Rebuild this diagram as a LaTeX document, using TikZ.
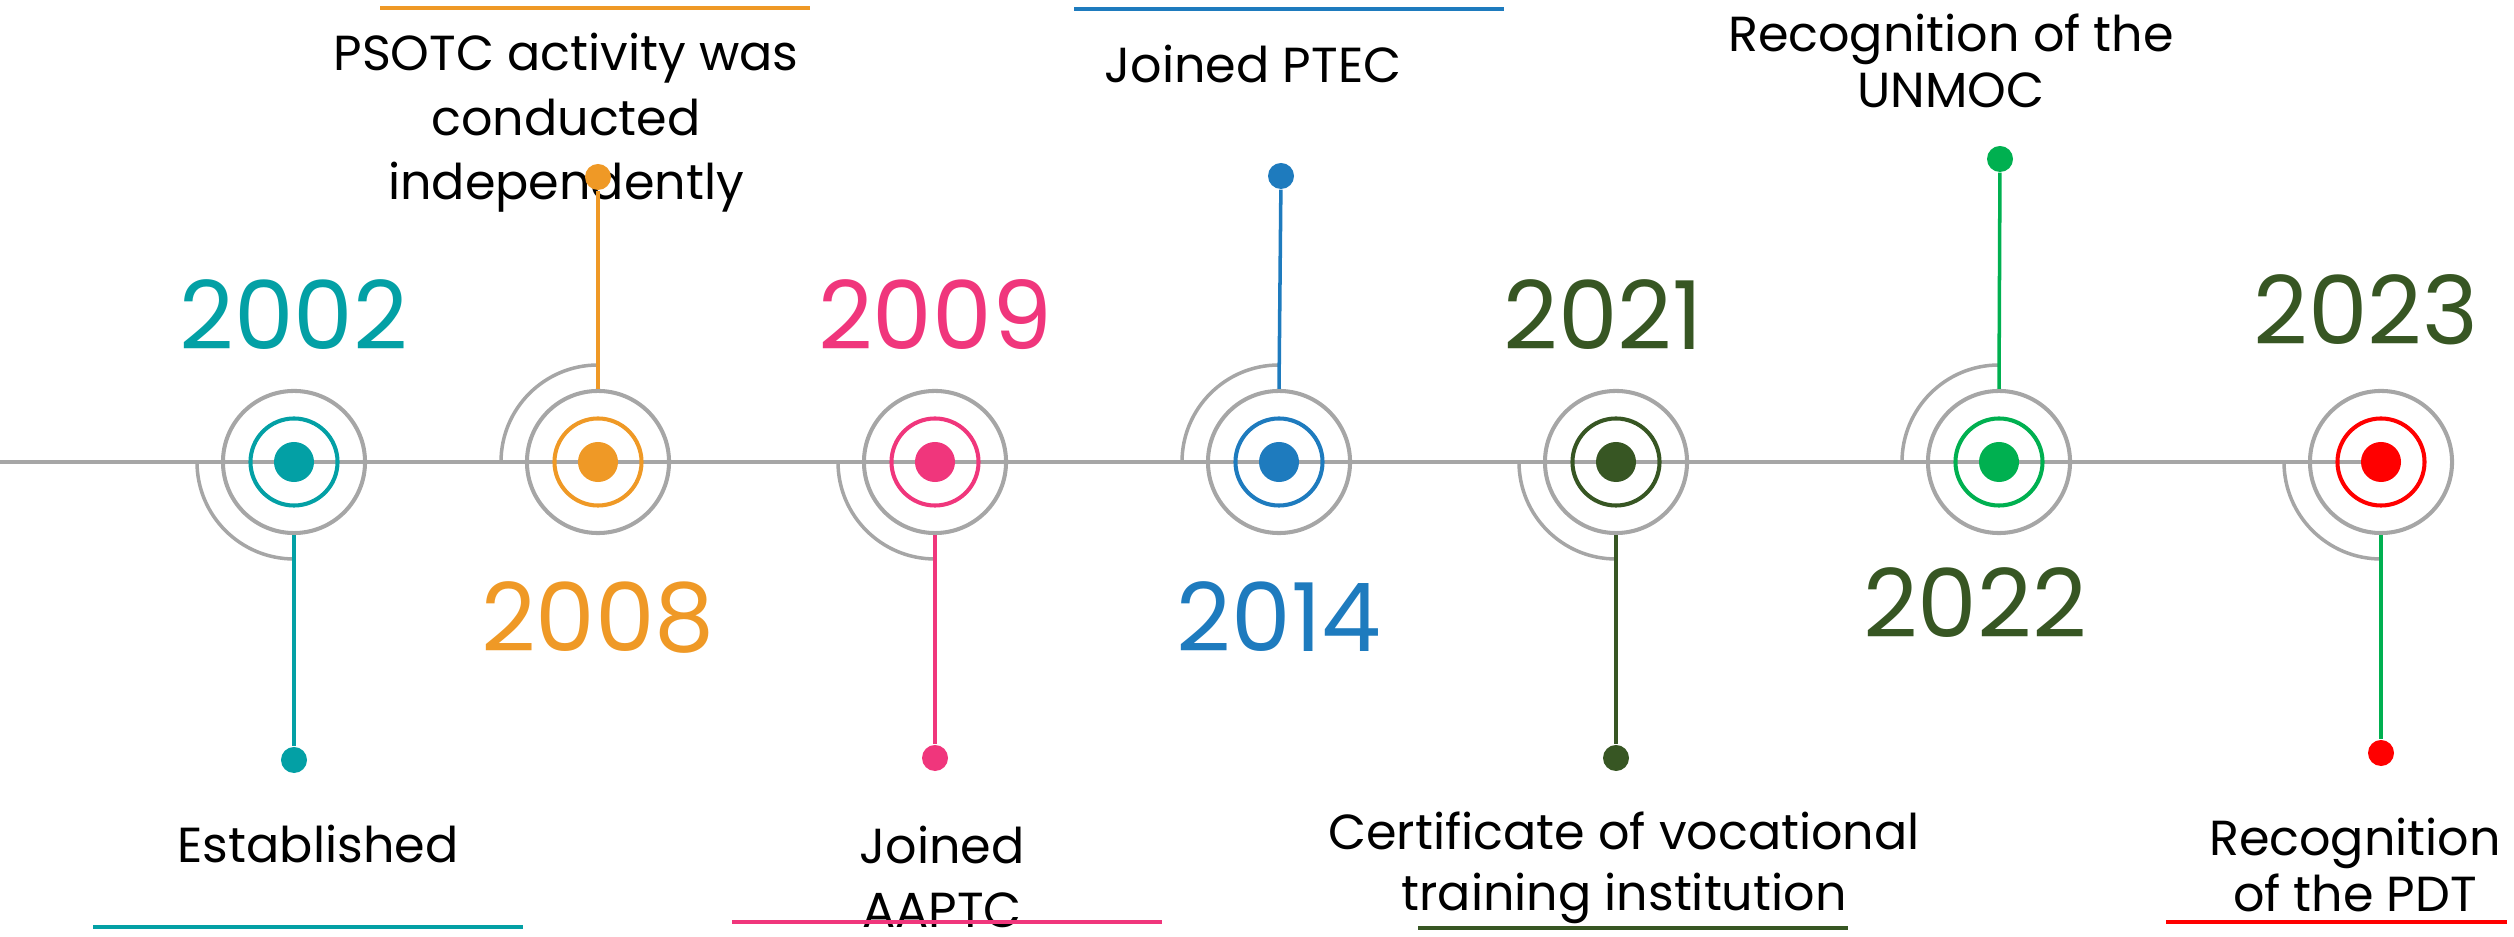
\documentclass[tikz,border=0pt]{standalone}
\usepackage{fontspec}
\setmainfont{Poppins}
\usetikzlibrary{positioning}

\definecolor{ringgray}{RGB}{166,166,166}
\definecolor{tealc}{RGB}{3,160,165}
\definecolor{orangec}{RGB}{239,153,38}
\definecolor{pinkc}{RGB}{240,54,124}
\definecolor{bluec}{RGB}{30,123,190}
\definecolor{darkgreenc}{RGB}{55,86,35}
\definecolor{greenc}{RGB}{0,176,80}
\definecolor{redc}{RGB}{255,0,0}

\tikzset{
  grayring/.style={circle, draw=ringgray, line width=1.15pt, minimum size=1.42cm, inner sep=0pt},
  colring/.style={circle, line width=1.15pt, minimum size=0.87cm, inner sep=0pt},
  coredot/.style={circle, minimum size=0.40cm, inner sep=0pt},
  enddot/.style={circle, minimum size=0.26cm, inner sep=0pt},
  arcline/.style={ringgray, line width=1pt},
  stem/.style={line width=1pt},
  barline/.style={line width=1.15pt},
  yeartext/.style={anchor=base, inner sep=0pt, font=\fontsize{27}{32}\selectfont},
  eventtext/.style={anchor=base, inner sep=0pt, align=center, font=\fontsize{14}{18.4}\selectfont}
}

\begin{document}
\begin{tikzpicture}[x=0.01cm, y=0.01cm]
\useasboundingbox (0,-475) rectangle (2514,462);

% milestones on the axis
\coordinate (m1) at (294,0);
\coordinate (m2) at (598,0);
\coordinate (m3) at (935,0);
\coordinate (m4) at (1279,0);
\coordinate (m5) at (1616,0);
\coordinate (m6) at (1999,0);
\coordinate (m7) at (2381,0);
\coordinate (axisstart) at (0,0);

% axis
\draw[ringgray, line width=1pt] (axisstart) -- (m7);

% 2002
\draw[arcline] (m1) ++(-97,0) arc[start angle=180, end angle=270, radius=97];
\node[grayring] (ring1) at (m1) {};
\node[colring, draw=tealc] (cring1) at (m1) {};
\node[coredot, fill=tealc] (dot1) at (m1) {};
\node[enddot, fill=tealc] (end1) at (294,-298) {};
\draw[stem, tealc] (ring1.south) -- (end1);
\node[yeartext, text=tealc] (year1) at (294,112) {2002};
\node[eventtext] (text1) at (318,-401) {Established};
\draw[barline, tealc] (93,-465) -- (523,-465);

% 2008
\draw[arcline] (m2) ++(-97,0) arc[start angle=180, end angle=90, radius=97];
\node[grayring] (ring2) at (m2) {};
\node[colring, draw=orangec] (cring2) at (m2) {};
\node[coredot, fill=orangec] (dot2) at (m2) {};
\node[eventtext, font=\fontsize{14}{18.4}\selectfont] (text2) at (566,262) {PSOTC activity was\\conducted\\independently};
\node[enddot, fill=orangec] (end2) at (598,285) {};
\draw[stem, orangec] (ring2.north) -- (end2);
\node[yeartext, text=orangec] (year2) at (598,-190) {2008};
\draw[barline, orangec] (380,454) -- (810,454);

% 2009
\draw[arcline] (m3) ++(-97,0) arc[start angle=180, end angle=270, radius=97];
\node[grayring] (ring3) at (m3) {};
\node[colring, draw=pinkc] (cring3) at (m3) {};
\node[coredot, fill=pinkc] (dot3) at (m3) {};
\node[enddot, fill=pinkc] (end3) at (935,-296) {};
\draw[stem, pinkc] (ring3.south) -- (end3);
\node[yeartext, text=pinkc] (year3) at (935,112) {2009};
\node[eventtext] (text3) at (942,-466) {Joined\\AAPTC};
\draw[barline, pinkc] (732,-460) -- (1162,-460);

% 2014
\draw[arcline] (m4) ++(-97,0) arc[start angle=180, end angle=90, radius=97];
\node[grayring] (ring4) at (m4) {};
\node[colring, draw=bluec] (cring4) at (m4) {};
\node[coredot, fill=bluec] (dot4) at (m4) {};
\node[enddot, fill=bluec] (end4) at (1281,286) {};
\draw[stem, bluec] (ring4.north) -- (end4);
\node[yeartext, text=bluec] (year4) at (1279,-190) {2014};
\node[eventtext] (text4) at (1253,379) {Joined PTEC};
\draw[barline, bluec] (1074,453) -- (1504,453);

% 2021
\draw[arcline] (m5) ++(-97,0) arc[start angle=180, end angle=270, radius=97];
\node[grayring] (ring5) at (m5) {};
\node[colring, draw=darkgreenc] (cring5) at (m5) {};
\node[coredot, fill=darkgreenc] (dot5) at (m5) {};
\node[enddot, fill=darkgreenc] (end5) at (1616,-296) {};
\draw[stem, darkgreenc] (ring5.south) -- (end5);
\node[yeartext, text=darkgreenc] (year5) at (1603,112) {2021};
\node[eventtext, font=\fontsize{14}{17.5}\selectfont] (text5) at (1624,-449) {Certificate of vocational\\training institution};
\draw[barline, darkgreenc] (1418,-466) -- (1848,-466);

% 2022
\draw[arcline] (m6) ++(-97,0) arc[start angle=180, end angle=90, radius=97];
\node[grayring] (ring6) at (m6) {};
\node[colring, draw=greenc] (cring6) at (m6) {};
\node[coredot, fill=greenc] (dot6) at (m6) {};
\node[enddot, fill=greenc] (end6) at (2000,303) {};
\draw[stem, greenc] (ring6.north) -- (end6);
\node[yeartext, text=darkgreenc] (year6) at (1975,-176) {2022};
\node[eventtext, font=\fontsize{14}{16.2}\selectfont] (text6) at (1951,354) {Recognition of the\\UNMOC};

% 2023
\draw[arcline] (m7) ++(-97,0) arc[start angle=180, end angle=270, radius=97];
\node[grayring] (ring7) at (m7) {};
\node[colring, draw=redc] (cring7) at (m7) {};
\node[coredot, fill=redc] (dot7) at (m7) {};
\node[enddot, fill=redc] (end7) at (2381,-291) {};
\draw[stem, greenc] (ring7.south) -- (end7);
\node[yeartext, text=darkgreenc] (year7) at (2366,117) {2023};
\node[eventtext, font=\fontsize{14}{16.2}\selectfont] (text7) at (2355,-450) {Recognition\\of the PDT};
\draw[barline, redc] (2166,-460) -- (2507,-460);
\end{tikzpicture}
\end{document}
